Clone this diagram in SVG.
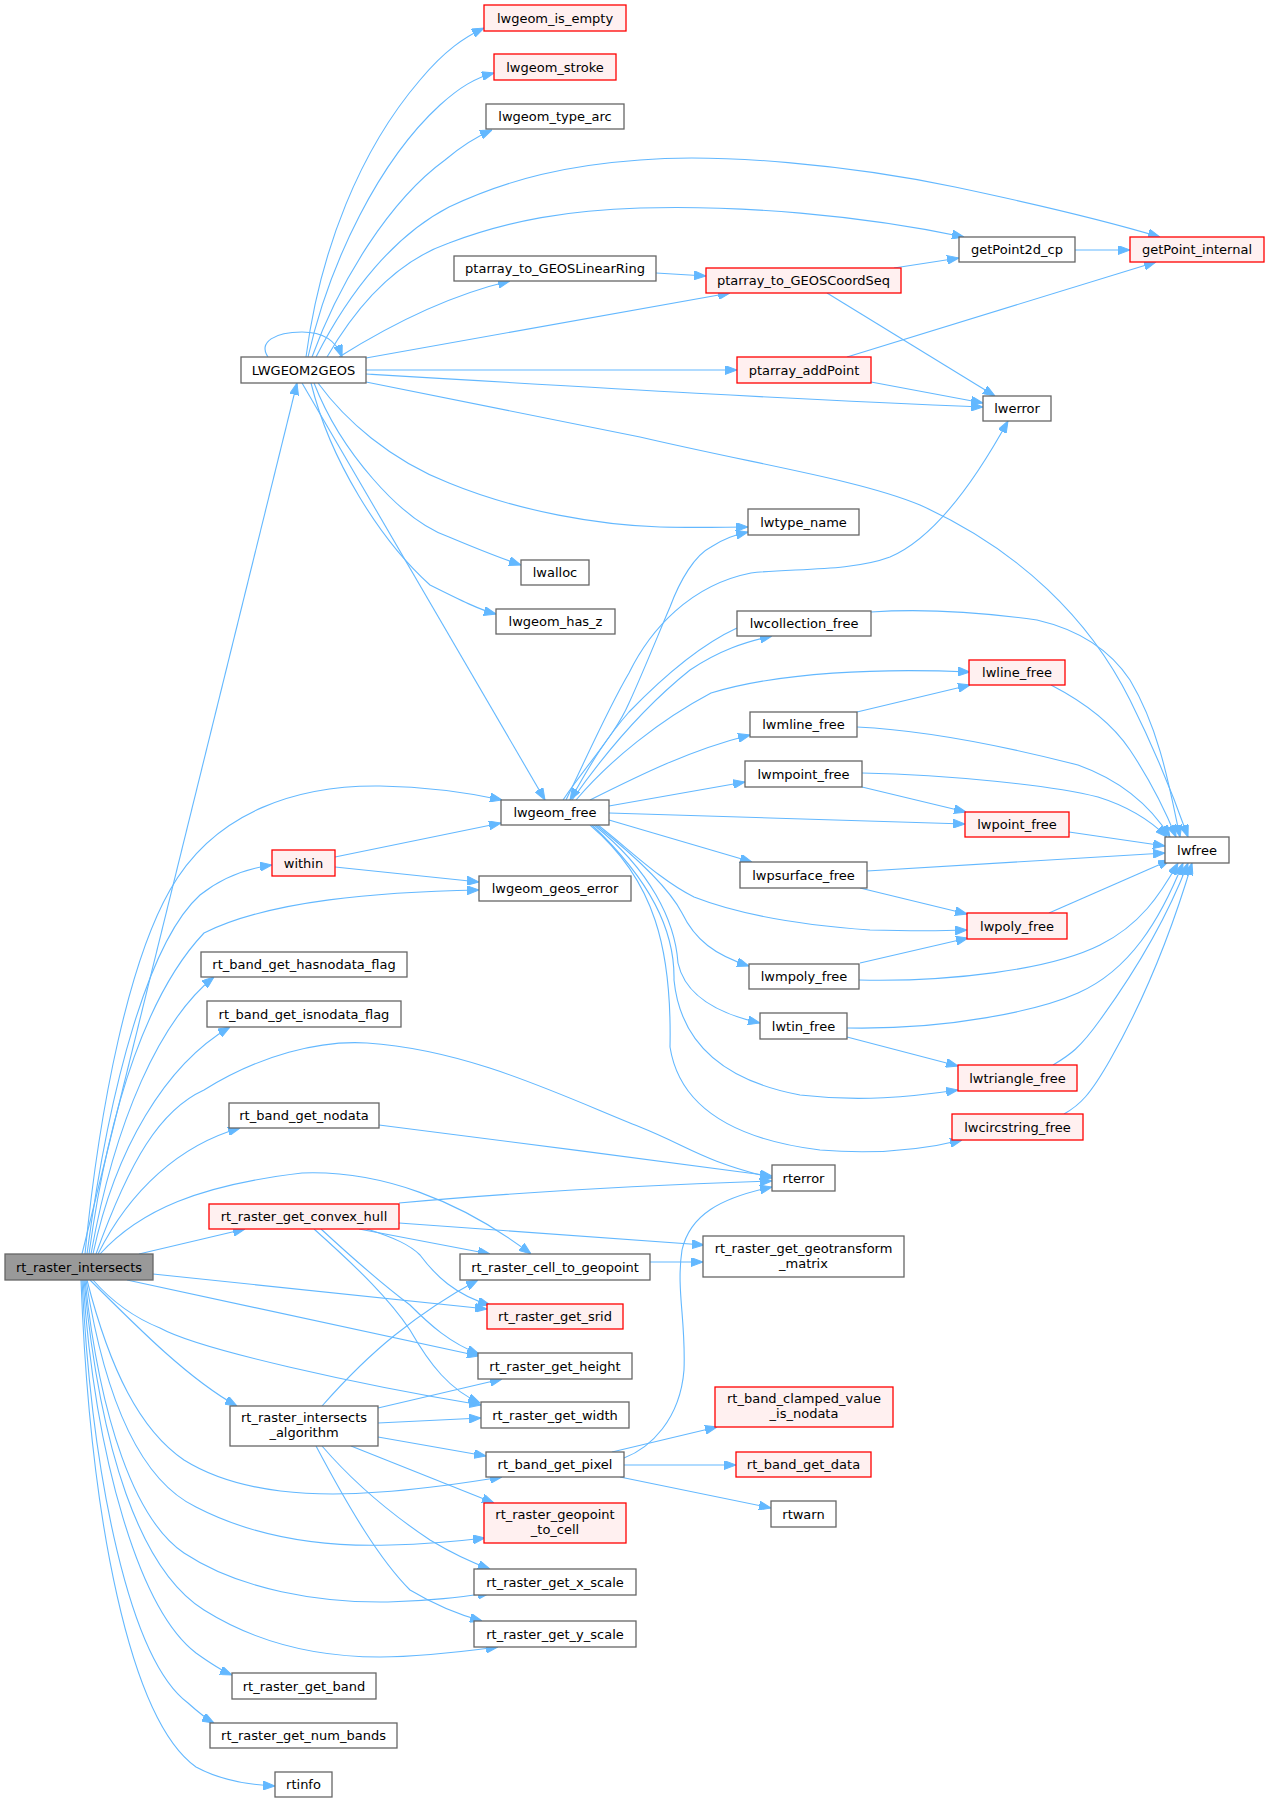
<svg xmlns="http://www.w3.org/2000/svg" width="1269" height="1803" viewBox="0 0 1269 1803">
<defs>
<marker id="a" viewBox="0 0 12 9" markerWidth="12" markerHeight="9" refX="12" refY="4.5" orient="auto" markerUnits="userSpaceOnUse"><path d="M0,0 L12,4.5 L0,9 z" fill="#63b8ff" stroke="#63b8ff" stroke-width="1"/></marker>
<style>
.n rect{fill:#fff;stroke:#666;stroke-width:1.3}
.r rect{fill:#fff0f0;stroke:#f00;stroke-width:1.3}
.root rect{fill:#999;stroke:#666;stroke-width:1.3}
text{font-family:"DejaVu Sans",Verdana,sans-serif;font-size:13px;text-anchor:middle;fill:#000}
#edges path{fill:none;stroke:#63b8ff;stroke-width:1.1;marker-end:url(#a)}
</style>
</defs>
<rect width="1269" height="1803" fill="#fff"/>
<g id="edges">
<path d="M82,1254 L297,383"/>
<path d="M85,1254 C100,1100 130,960 170,890 C215,810 300,785 380,786 C430,787 470,793 502,800"/>
<path d="M87,1254 C110,1080 150,940 200,895 C225,875 250,868 272,865"/>
<path d="M89,1254 C110,1100 150,990 204,933 C270,900 380,892 479,890"/>
<path d="M91,1254 C115,1120 160,1020 214,977"/>
<path d="M93,1254 C115,1150 165,1065 230,1027"/>
<path d="M96,1254 C130,1160 160,1110 204,1090 C260,1055 320,1040 367,1043 C470,1050 560,1095 640,1127 C690,1147 700,1160 772,1178"/>
<path d="M98,1254 C130,1190 180,1145 240,1128"/>
<path d="M100,1254 C140,1210 200,1185 302,1173 C380,1170 460,1200 531,1254"/>
<path d="M139,1254 L245,1229"/>
<path d="M153,1274 L487,1309"/>
<path d="M127,1280 L479,1356"/>
<path d="M93,1280 C115,1305 140,1320 160,1328 C200,1350 360,1385 481,1405"/>
<path d="M90,1280 C140,1330 190,1380 237,1406"/>
<path d="M87,1280 C110,1370 140,1430 184,1460 C240,1495 320,1497 380,1492 C430,1489 470,1482 502,1477"/>
<path d="M86,1280 C105,1400 140,1480 196,1507 C260,1540 330,1547 390,1545 C430,1544 460,1541 485,1538"/>
<path d="M85,1280 C100,1420 135,1520 184,1553 C240,1590 320,1603 388,1602 C430,1601 460,1597 490,1593"/>
<path d="M84,1280 C100,1450 140,1570 204,1610 C260,1645 320,1657 380,1657 C420,1657 460,1652 498,1647"/>
<path d="M83,1280 C95,1460 140,1610 196,1653 C210,1663 220,1670 232,1675"/>
<path d="M82,1280 C92,1480 130,1660 188,1703 C198,1712 205,1718 214,1723"/>
<path d="M81,1280 C90,1520 130,1720 196,1767 C220,1780 250,1785 275,1786"/>
<path d="M306,357 C320,250 360,150 420,80 C445,50 465,37 484,28"/>
<path d="M308,357 C330,260 380,160 440,105 C460,87 475,78 494,73"/>
<path d="M312,357 C340,280 390,200 445,160 C465,143 478,136 492,130"/>
<path d="M316,357 C350,290 395,235 449,207 C510,178 570,165 640,160 C720,153 850,165 955,187 C1040,205 1110,222 1160,237"/>
<path d="M327,357 C360,300 400,260 449,243 C510,220 570,210 640,208 C740,205 860,215 964,237"/>
<path d="M339,357 C390,325 450,295 510,281"/>
<path d="M366,358 L730,293"/>
<path d="M366,370 L737,370"/>
<path d="M366,374 C600,388 800,400 983,407"/>
<path d="M366,382 L640,437 C760,465 860,480 920,505 C1020,550 1090,620 1130,700 C1160,760 1175,800 1188,837"/>
<path d="M318,383 C345,420 390,460 449,483 C520,512 600,525 660,527 C700,528 725,527 748,527"/>
<path d="M314,383 C340,450 400,520 449,537 C480,550 500,558 521,565"/>
<path d="M311,383 C330,460 380,540 430,585 C460,600 480,610 496,614"/>
<path d="M302,383 L545,800"/>
<path d="M268,357 C258,342 275,332 302,332 C322,332 336,340 342,357"/>
<path d="M656,273 L706,276"/>
<path d="M894,268 L959,258"/>
<path d="M827,293 L995,396"/>
<path d="M1075,250 L1130,250"/>
<path d="M847,357 L1156,262"/>
<path d="M871,382 L983,403"/>
<path d="M566,800 C590,750 610,705 629,673 C650,630 690,585 751,573 C790,568 850,572 890,557 C930,540 970,490 1008,421"/>
<path d="M563,800 C590,760 615,735 629,703 C645,668 660,630 670,607 C680,580 695,555 711,547 C725,538 735,535 748,532"/>
<path d="M737,628 C700,645 660,680 629,712 C600,745 585,775 570,800"/>
<path d="M572,800 C600,760 640,710 690,670 C720,650 745,642 772,636"/>
<path d="M576,800 C610,760 660,720 711,693 C780,672 880,668 970,672"/>
<path d="M590,800 C640,775 690,750 750,735"/>
<path d="M609,806 L745,782"/>
<path d="M609,813 L965,824"/>
<path d="M609,820 L752,862"/>
<path d="M598,825 C630,850 660,880 694,897 C740,915 800,925 870,930 C910,931 940,931 967,930"/>
<path d="M596,825 C640,860 670,890 682,913 C695,940 715,955 749,966"/>
<path d="M594,825 C650,870 675,920 678,963 C685,995 715,1013 760,1023"/>
<path d="M592,825 C650,880 675,930 674,980 C680,1040 720,1080 800,1095 C860,1102 910,1097 958,1090"/>
<path d="M590,825 C655,880 672,950 670,1047 C680,1110 740,1140 820,1150 C880,1155 930,1148 962,1140"/>
<path d="M871,612 C900,610 950,608 1037,620 C1080,630 1110,650 1130,680 C1160,730 1170,790 1180,837"/>
<path d="M1051,685 C1080,700 1110,720 1130,750 C1150,780 1165,810 1176,837"/>
<path d="M857,727 C920,730 1000,745 1078,765 C1120,780 1150,805 1170,837"/>
<path d="M862,773 C950,775 1050,785 1098,797 C1130,807 1150,820 1167,837"/>
<path d="M1069,832 L1165,846"/>
<path d="M867,871 L1165,853"/>
<path d="M1049,913 L1170,860"/>
<path d="M859,980 C950,982 1050,970 1100,945 C1140,925 1160,895 1178,863"/>
<path d="M847,1028 C950,1030 1040,1010 1078,993 C1130,970 1160,920 1183,863"/>
<path d="M1053,1065 C1070,1055 1080,1048 1100,1020 C1140,965 1170,910 1188,863"/>
<path d="M1064,1114 C1080,1105 1090,1095 1110,1060 C1150,990 1175,920 1192,863"/>
<path d="M862,787 L966,812"/>
<path d="M857,712 L970,685"/>
<path d="M860,888 L967,914"/>
<path d="M860,963 L968,938"/>
<path d="M847,1037 L958,1066"/>
<path d="M335,857 L501,823"/>
<path d="M335,867 L479,882"/>
<path d="M379,1125 C500,1140 650,1160 772,1176"/>
<path d="M399,1203 C520,1192 650,1185 772,1181"/>
<path d="M399,1223 L704,1245"/>
<path d="M359,1229 L490,1254"/>
<path d="M367,1229 C395,1238 410,1245 420,1255 C435,1275 455,1295 490,1305"/>
<path d="M321,1229 C360,1265 390,1290 410,1305 C430,1325 450,1343 479,1354"/>
<path d="M314,1229 C360,1270 390,1300 410,1330 C430,1365 450,1390 480,1403"/>
<path d="M650,1262 L703,1262"/>
<path d="M322,1406 C345,1380 370,1355 395,1335 C420,1315 450,1295 478,1280"/>
<path d="M378,1408 L502,1379"/>
<path d="M378,1423 L481,1418"/>
<path d="M378,1437 L486,1456"/>
<path d="M351,1446 L494,1503"/>
<path d="M322,1446 C360,1490 400,1520 430,1540 C450,1552 470,1562 490,1569"/>
<path d="M316,1446 C350,1510 380,1560 410,1590 C435,1605 460,1615 482,1621"/>
<path d="M624,1458 C650,1448 680,1420 684,1370 C686,1320 676,1290 682,1250 C690,1215 720,1198 772,1187"/>
<path d="M612,1452 L717,1427"/>
<path d="M624,1465 L736,1465"/>
<path d="M620,1477 L771,1508"/>
</g>
<g id="rt_raster_intersects" class="root"><rect x="5" y="1254" width="148" height="26"/><text x="79" y="1271.5">rt_raster_intersects</text></g>
<g id="LWGEOM2GEOS" class="n"><rect x="241" y="357" width="125" height="26"/><text x="303.5" y="374.5">LWGEOM2GEOS</text></g>
<g id="lwgeom_is_empty" class="r"><rect x="484" y="5" width="142" height="26"/><text x="555" y="22.5">lwgeom_is_empty</text></g>
<g id="lwgeom_stroke" class="r"><rect x="494" y="54" width="122" height="26"/><text x="555" y="71.5">lwgeom_stroke</text></g>
<g id="lwgeom_type_arc" class="n"><rect x="486" y="104" width="138" height="25"/><text x="555" y="121">lwgeom_type_arc</text></g>
<g id="ptarray_to_GEOSLinearRing" class="n"><rect x="454" y="256" width="202" height="25"/><text x="555" y="273">ptarray_to_GEOSLinearRing</text></g>
<g id="ptarray_to_GEOSCoordSeq" class="r"><rect x="706" y="268" width="195" height="25"/><text x="803.5" y="285">ptarray_to_GEOSCoordSeq</text></g>
<g id="getPoint2d_cp" class="n"><rect x="959" y="237" width="116" height="25"/><text x="1017" y="254">getPoint2d_cp</text></g>
<g id="getPoint_internal" class="r"><rect x="1130" y="237" width="134" height="25"/><text x="1197" y="254">getPoint_internal</text></g>
<g id="ptarray_addPoint" class="r"><rect x="737" y="357" width="134" height="26"/><text x="804" y="374.5">ptarray_addPoint</text></g>
<g id="lwerror" class="n"><rect x="983" y="396" width="68" height="25"/><text x="1017" y="413">lwerror</text></g>
<g id="lwtype_name" class="n"><rect x="748" y="509" width="111" height="26"/><text x="803.5" y="526.5">lwtype_name</text></g>
<g id="lwalloc" class="n"><rect x="521" y="560" width="68" height="25"/><text x="555" y="577">lwalloc</text></g>
<g id="lwgeom_has_z" class="n"><rect x="496" y="609" width="119" height="25"/><text x="555.5" y="626">lwgeom_has_z</text></g>
<g id="lwcollection_free" class="n"><rect x="737" y="611" width="134" height="25"/><text x="804" y="628">lwcollection_free</text></g>
<g id="lwline_free" class="r"><rect x="969" y="660" width="96" height="25"/><text x="1017" y="677">lwline_free</text></g>
<g id="lwmline_free" class="n"><rect x="750" y="712" width="107" height="25"/><text x="803.5" y="729">lwmline_free</text></g>
<g id="lwmpoint_free" class="n"><rect x="745" y="761" width="117" height="26"/><text x="803.5" y="778.5">lwmpoint_free</text></g>
<g id="lwgeom_free" class="n"><rect x="501" y="800" width="108" height="25"/><text x="555" y="817">lwgeom_free</text></g>
<g id="lwpoint_free" class="r"><rect x="965" y="812" width="104" height="25"/><text x="1017" y="829">lwpoint_free</text></g>
<g id="lwfree" class="n"><rect x="1165" y="837" width="64" height="26"/><text x="1197" y="854.5">lwfree</text></g>
<g id="lwpsurface_free" class="n"><rect x="740" y="862" width="127" height="26"/><text x="803.5" y="879.5">lwpsurface_free</text></g>
<g id="within" class="r"><rect x="272" y="850" width="63" height="26"/><text x="303.5" y="867.5">within</text></g>
<g id="lwgeom_geos_error" class="n"><rect x="479" y="876" width="152" height="25"/><text x="555" y="893">lwgeom_geos_error</text></g>
<g id="lwpoly_free" class="r"><rect x="967" y="913" width="100" height="26"/><text x="1017" y="930.5">lwpoly_free</text></g>
<g id="lwmpoly_free" class="n"><rect x="749" y="964" width="110" height="25"/><text x="804" y="981">lwmpoly_free</text></g>
<g id="lwtin_free" class="n"><rect x="760" y="1013" width="87" height="26"/><text x="803.5" y="1030.5">lwtin_free</text></g>
<g id="lwtriangle_free" class="r"><rect x="958" y="1065" width="119" height="26"/><text x="1017.5" y="1082.5">lwtriangle_free</text></g>
<g id="lwcircstring_free" class="r"><rect x="952" y="1114" width="131" height="26"/><text x="1017.5" y="1131.5">lwcircstring_free</text></g>
<g id="rt_band_get_hasnodata_flag" class="n"><rect x="201" y="952" width="206" height="25"/><text x="304" y="969">rt_band_get_hasnodata_flag</text></g>
<g id="rt_band_get_isnodata_flag" class="n"><rect x="207" y="1001" width="194" height="26"/><text x="304" y="1018.5">rt_band_get_isnodata_flag</text></g>
<g id="rt_band_get_nodata" class="n"><rect x="229" y="1103" width="150" height="25"/><text x="304" y="1120">rt_band_get_nodata</text></g>
<g id="rterror" class="n"><rect x="772" y="1165" width="63" height="26"/><text x="803.5" y="1182.5">rterror</text></g>
<g id="rt_raster_get_convex_hull" class="r"><rect x="209" y="1204" width="190" height="25"/><text x="304" y="1221">rt_raster_get_convex_hull</text></g>
<g id="rt_raster_cell_to_geopoint" class="n"><rect x="460" y="1254" width="190" height="26"/><text x="555" y="1271.5">rt_raster_cell_to_geopoint</text></g>
<g id="rt_raster_get_geotransform_matrix" class="n"><rect x="703" y="1236" width="201" height="41"/><text x="803.5" y="1252.5">rt_raster_get_geotransform</text><text x="803.5" y="1267.5">_matrix</text></g>
<g id="rt_raster_get_srid" class="r"><rect x="487" y="1304" width="136" height="25"/><text x="555" y="1321">rt_raster_get_srid</text></g>
<g id="rt_raster_get_height" class="n"><rect x="478" y="1353" width="154" height="26"/><text x="555" y="1370.5">rt_raster_get_height</text></g>
<g id="rt_raster_get_width" class="n"><rect x="481" y="1402" width="148" height="26"/><text x="555" y="1419.5">rt_raster_get_width</text></g>
<g id="rt_raster_intersects_algorithm" class="n"><rect x="230" y="1406" width="148" height="40"/><text x="304" y="1421.5">rt_raster_intersects</text><text x="304" y="1436.5">_algorithm</text></g>
<g id="rt_band_get_pixel" class="n"><rect x="486" y="1452" width="138" height="25"/><text x="555" y="1469">rt_band_get_pixel</text></g>
<g id="rt_raster_geopoint_to_cell" class="r"><rect x="484" y="1503" width="142" height="40"/><text x="555" y="1518.5">rt_raster_geopoint</text><text x="555" y="1533.5">_to_cell</text></g>
<g id="rt_raster_get_x_scale" class="n"><rect x="474" y="1569" width="162" height="26"/><text x="555" y="1586.5">rt_raster_get_x_scale</text></g>
<g id="rt_raster_get_y_scale" class="n"><rect x="474" y="1621" width="162" height="26"/><text x="555" y="1638.5">rt_raster_get_y_scale</text></g>
<g id="rt_raster_get_band" class="n"><rect x="232" y="1673" width="144" height="26"/><text x="304" y="1690.5">rt_raster_get_band</text></g>
<g id="rt_raster_get_num_bands" class="n"><rect x="210" y="1723" width="187" height="25"/><text x="303.5" y="1740">rt_raster_get_num_bands</text></g>
<g id="rtinfo" class="n"><rect x="275" y="1772" width="57" height="25"/><text x="303.5" y="1789">rtinfo</text></g>
<g id="rt_band_clamped_value_is_nodata" class="r"><rect x="715" y="1387" width="178" height="40"/><text x="804" y="1402.5">rt_band_clamped_value</text><text x="804" y="1417.5">_is_nodata</text></g>
<g id="rt_band_get_data" class="r"><rect x="736" y="1452" width="135" height="25"/><text x="803.5" y="1469">rt_band_get_data</text></g>
<g id="rtwarn" class="n"><rect x="771" y="1501" width="65" height="26"/><text x="803.5" y="1518.5">rtwarn</text></g>
</svg>
